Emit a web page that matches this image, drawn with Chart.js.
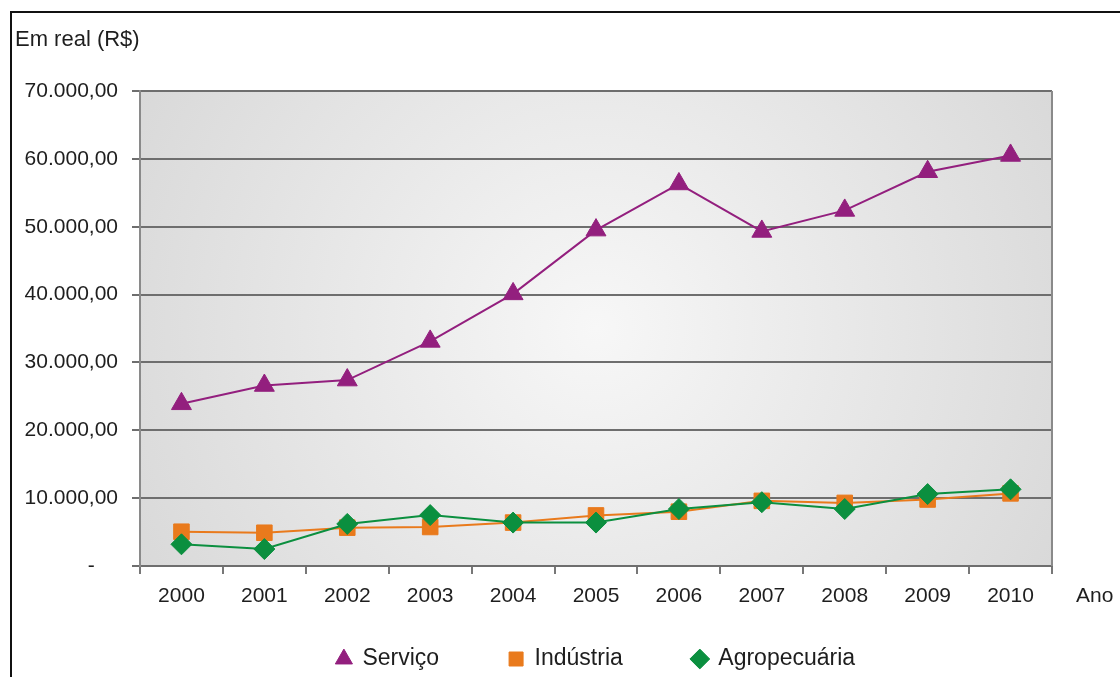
<!DOCTYPE html>
<html>
<head>
<meta charset="utf-8">
<script src="https://cdn.jsdelivr.net/npm/chart.js@4.4.0/dist/chart.umd.min.js"></script>
<style>
  html, body { margin: 0; padding: 0; background: #fff; }
  #frame {
    position: absolute; left: 10px; top: 11px; width: 1200px; height: 800px;
    border-left: 2px solid #111; border-top: 2px solid #111;
  }
  #chart { position: absolute; left: 0; top: 0; }
</style>
</head>
<body>
<div id="frame"></div>
<canvas id="chart" width="1120" height="677"></canvas>
<script>
// anos (eixo X)
const anos = ["2000", "2001", "2002", "2003", "2004", "2005", "2006", "2007", "2008", "2009", "2010"];

// valores em real (R$)
const servico = [23900, 26600, 27400, 33100, 40100, 49500, 56300, 49300, 52400, 58100, 60500];
const industria = [5050, 4900, 5650, 5750, 6400, 7450, 8000, 9600, 9300, 9800, 10700];
const agropecuaria = [3200, 2500, 6200, 7500, 6400, 6400, 8400, 9400, 8400, 10600, 11300];

// rótulos do eixo Y (um a cada 10.000)
const rotulosY = ["-    ", "10.000,00", "20.000,00", "30.000,00", "40.000,00", "50.000,00", "60.000,00", "70.000,00"];

const FONTE = "'Liberation Sans', Arial, sans-serif";
Chart.defaults.font.family = FONTE;
Chart.defaults.color = "#1e1e1e";

// Fundo em degradê da área do gráfico + borda direita + textos soltos
const decoracao = {
  id: "decoracao",
  beforeDraw(chart) {
    const { ctx, chartArea: a } = chart;
    const cx = (a.left + a.right) / 2;
    const cy = (a.top + a.bottom) / 2;
    const r = Math.hypot(a.right - a.left, a.bottom - a.top) / 2;
    const g = ctx.createRadialGradient(cx, cy, 0, cx, cy, r);
    g.addColorStop(0, "#f7f7f7");
    g.addColorStop(1, "#d9d9d9");
    ctx.save();
    ctx.fillStyle = g;
    ctx.fillRect(a.left, a.top, a.right - a.left, a.bottom - a.top);
    ctx.restore();
  },
  afterDraw(chart) {
    const { ctx, chartArea: a } = chart;
    ctx.save();
    ctx.strokeStyle = "#8a8a8a";
    ctx.lineWidth = 2;
    ctx.beginPath();
    ctx.moveTo(a.right, a.top);
    ctx.lineTo(a.right, a.bottom);
    ctx.stroke();

    ctx.fillStyle = "#1e1e1e";
    ctx.textBaseline = "middle";
    ctx.textAlign = "left";
    ctx.font = "22px " + FONTE;
    ctx.fillText("Em real (R$)", 15, 40);
    ctx.font = "21px " + FONTE;
    ctx.fillText("Ano", 1076, 596);
    ctx.restore();
  },
};

const ctx = document.getElementById("chart").getContext("2d");
new Chart(ctx, {
  type: "line",
  data: {
    labels: anos,
    datasets: [
      {
        label: "Serviço",
        data: servico,
        borderColor: "#931f7e",
        backgroundColor: "#931f7e",
        pointStyle: "triangle",
        pointRadius: 11.5,
        borderWidth: 2,
        pointBorderWidth: 1,
        order: 2,
      },
      {
        label: "Indústria",
        data: industria,
        borderColor: "#e97a1c",
        backgroundColor: "#e97a1c",
        pointStyle: "rect",
        pointRadius: 11,
        borderWidth: 2,
        pointBorderWidth: 1,
        order: 1,
      },
      {
        label: "Agropecuária",
        data: agropecuaria,
        borderColor: "#0b8f3f",
        backgroundColor: "#0b8f3f",
        pointStyle: "rectRot",
        pointRadius: 10.5,
        borderWidth: 2,
        pointBorderWidth: 1,
        order: 0,
      },
    ],
  },
  options: {
    responsive: false,
    animation: false,
    events: [],
    layout: {
      padding: { left: 0, right: 68, top: 91, bottom: 0 },
    },
    elements: { line: { tension: 0 } },
    plugins: {
      legend: {
        position: "bottom",
        fullSize: false,
        maxHeight: 99.5,
        labels: {
          usePointStyle: true,
          boxWidth: 14,
          boxHeight: 14,
          padding: 70,
          color: "#1e1e1e",
          font: { size: 23 },
          sort: (a, b) => a.datasetIndex - b.datasetIndex,
        },
      },
      tooltip: { enabled: false },
    },
    scales: {
      x: {
        offset: true,
        afterFit: (scale) => { scale.height = 11.5; },
        grid: {
          offset: true,
          drawOnChartArea: false,
          color: "#777",
          lineWidth: 2,
          tickLength: 8,
        },
        border: { color: "#6e6e6e", width: 2 },
        // mirror evita o recorte dos rótulos (a caixa do eixo é baixa);
        // com mirror o padding negativo manda os rótulos para baixo do eixo
        ticks: { mirror: true, padding: -42.6, color: "#1e1e1e", font: { size: 21 } },
      },
      y: {
        min: 0,
        max: 70000,
        afterFit: (scale) => { scale.width = 140; },
        grid: { color: "#6e6e6e", lineWidth: 2, tickLength: 8 },
        border: { color: "#8a8a8a", width: 2 },
        ticks: {
          stepSize: 10000,
          padding: 14,
          color: "#1e1e1e",
          font: { size: 21 },
          callback: (v) => rotulosY[Math.round(v / 10000)],
        },
      },
    },
  },
  plugins: [decoracao],
});
</script>
</body>
</html>
